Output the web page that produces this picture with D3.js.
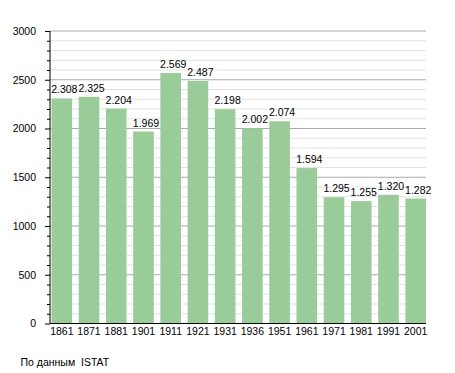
<!DOCTYPE html>
<html><head><meta charset="utf-8">
<script src="https://cdn.jsdelivr.net/npm/d3@7"></script>
<style>body{margin:0;background:#fff}svg{display:block}text{font-family:"Liberation Sans",Arial,sans-serif}</style>
</head><body>
<svg id="c" width="455" height="373"></svg>
<script>
const years = ["1861","1871","1881","1901","1911","1921","1931","1936","1951","1961","1971","1981","1991","2001"];
const population = [2308,2325,2204,1969,2569,2487,2198,2002,2074,1594,1295,1255,1320,1282];
const yTicks = [0,500,1000,1500,2000,2500,3000];
const sourceText = "По данным  ISTAT";

const svg = d3.select("#c");
const pLeft = 50, pRight = 426, pTop = 31, pBottom = 323.5;
const x = d3.scaleBand().domain(years).range([51.5, 426]).paddingInner(0.243).paddingOuter(0);
const y = d3.scaleLinear().domain([0,3000]).range([pBottom, pTop]);

const minor = d3.range(0, 3001, 100);
svg.append("g").selectAll("line").data(minor).join("line")
  .attr("x1", pLeft).attr("x2", pRight)
  .attr("y1", d => y(d)).attr("y2", d => y(d))
  .attr("stroke", d => d % 500 === 0 ? "#aaaaaa" : "#e2e2e2")
  .attr("stroke-width", 1);

svg.append("g").selectAll("rect").data(population).join("rect")
  .attr("x", (d,i) => x(years[i]))
  .attr("width", x.bandwidth())
  .attr("y", d => y(d))
  .attr("height", d => y(0) - y(d))
  .attr("fill", "#99cc99");

svg.append("g").selectAll("text").data(population).join("text")
  .attr("x", (d,i) => x(years[i]) + x.bandwidth()/2 + 2.5)
  .attr("y", d => y(d) - 5)
  .attr("text-anchor", "middle")
  .attr("font-size", 10.5)
  .attr("fill", "#000")
  .text(d => d3.format(",")(d).replace(",", "."));

// y axis
const ya = svg.append("g").attr("transform", `translate(${pLeft},0)`)
  .call(d3.axisLeft(y).tickValues(yTicks).tickSize(5).tickPadding(9).tickFormat(d3.format("d")));
ya.select(".domain").remove();
ya.selectAll("text").attr("font-size", 10.5).attr("font-family", '"Liberation Sans",Arial,sans-serif');
ya.selectAll("line").attr("stroke", "#000");
svg.append("g").attr("transform", `translate(${pLeft},0)`)
  .call(d3.axisLeft(y).tickValues(minor.filter(d => d % 500 !== 0)).tickSize(3).tickFormat(""))
  .call(g => g.select(".domain").remove())
  .selectAll("line").attr("stroke", "#000");
svg.append("line").attr("x1", pLeft).attr("x2", pLeft).attr("y1", pTop).attr("y2", pBottom).attr("stroke", "#000");

// x axis
const xa = svg.append("g").attr("transform", `translate(0,${pBottom})`)
  .call(d3.axisBottom(x).tickSize(0).tickPadding(4));
xa.select(".domain").remove();
xa.selectAll("text").attr("font-size", 10.5).attr("font-family", '"Liberation Sans",Arial,sans-serif');
svg.append("line").attr("x1", pLeft).attr("x2", pRight).attr("y1", pBottom).attr("y2", pBottom).attr("stroke", "#000");

svg.append("text").attr("x", 20.5).attr("y", 366).attr("font-size", 10.5)
  .attr("xml:space", "preserve").style("white-space", "pre").text(sourceText);
</script>
</body></html>
